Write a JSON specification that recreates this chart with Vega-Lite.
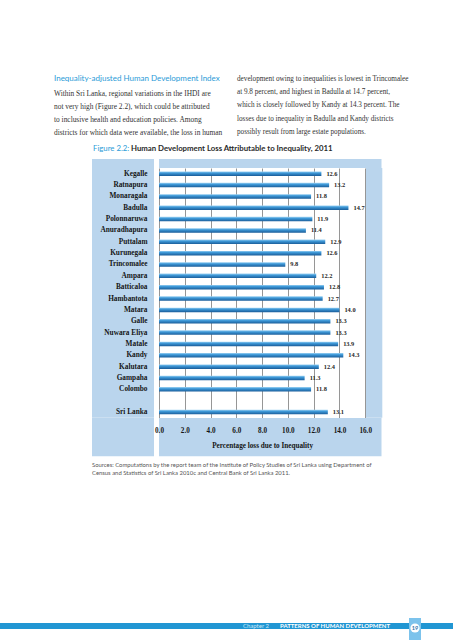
{
  "$schema": "https://vega.github.io/schema/vega-lite/v6.json",
  "padding": 0,
  "background": "white",
  "config": {"view": {"stroke": null}, "concat": {"spacing": 0}},
  "datasets": {
    "loss": [
      {"district": "Kegalle", "loss": 12.6},
      {"district": "Ratnapura", "loss": 13.2},
      {"district": "Monaragala", "loss": 11.8},
      {"district": "Badulla", "loss": 14.7},
      {"district": "Polonnaruwa", "loss": 11.9},
      {"district": "Anuradhapura", "loss": 11.4},
      {"district": "Puttalam", "loss": 12.9},
      {"district": "Kurunegala", "loss": 12.6},
      {"district": "Trincomalee", "loss": 9.8},
      {"district": "Ampara", "loss": 12.2},
      {"district": "Batticaloa", "loss": 12.8},
      {"district": "Hambantota", "loss": 12.7},
      {"district": "Matara", "loss": 14.0},
      {"district": "Galle", "loss": 13.3},
      {"district": "Nuwara Eliya", "loss": 13.3},
      {"district": "Matale", "loss": 13.9},
      {"district": "Kandy", "loss": 14.3},
      {"district": "Kalutara", "loss": 12.4},
      {"district": "Gampaha", "loss": 11.3},
      {"district": "Colombo", "loss": 11.8},
      {"district": "Sri Lanka", "loss": 13.1}
    ]
  },
  "spacing": 0,
  "resolve": {"scale": {"x": "independent", "y": "independent"}},
  "vconcat": [
    {
      "spacing": 0,
      "hconcat": [
        {
          "width": 237, "height": 140, "data": {"values": []}, "mark": "point",
          "title": {
            "text": "Inequality-adjusted Human Development Index",
            "subtitle": [
              "Within Sri Lanka, regional variations in the IHDI are",
              "not very high (Figure 2.2), which could be attributed",
              "to inclusive health and education policies. Among",
              "districts for which data were available, the loss in human"
            ],
            "orient": "bottom", "anchor": "start", "offset": -65.5, "dx": 54,
            "font": "Lato", "fontSize": 8, "fontWeight": "normal", "color": "#2b9bd7",
            "subtitleFont": "Liberation Serif", "subtitleFontSize": 7.4, "subtitleColor": "#333333",
            "subtitleLineHeight": 13.2, "subtitlePadding": 7
          }
        },
        {
          "width": 216, "height": 140, "data": {"values": []}, "mark": "point",
          "title": {
            "text": [
              "development owing to inequalities is lowest in Trincomalee",
              "at 9.8 percent, and highest in Badulla at 14.7 percent,",
              "which is closely followed by Kandy at 14.3 percent. The",
              "losses due to inequality in Badulla and Kandy districts",
              "possibly result from large estate populations."
            ],
            "orient": "bottom", "anchor": "start", "offset": -65,
            "font": "Liberation Serif", "fontSize": 7.2, "fontWeight": "normal", "color": "#333333",
            "lineHeight": 13.2
          }
        }
      ]
    },
    {
      "spacing": 0,
      "hconcat": [
        {
          "width": 131, "height": 19, "data": {"values": []}, "mark": "point",
          "title": {
            "text": "Figure 2.2:", "orient": "bottom", "anchor": "start", "offset": -14.5, "dx": 93,
            "font": "Lato", "fontSize": 7.8, "fontWeight": "normal", "color": "#2b9bd7"
          }
        },
        {
          "width": 322, "height": 19, "data": {"values": []}, "mark": "point",
          "title": {
            "text": "Human Development Loss Attributable to Inequality, 2011", "orient": "bottom", "anchor": "start", "offset": -14.5,
            "font": "Lato", "fontSize": 7.8, "fontWeight": "bold", "color": "#2a2a2a"
          }
        }
      ]
    },
    {
      "spacing": 0,
      "resolve": {"scale": {"x": "independent", "y": "independent"}},
      "hconcat": [
        {"width": 91.5, "height": 297, "data": {"values": []}, "mark": "point"},
        {
          "spacing": 0,
          "vconcat": [
            {"width": 62, "height": 9, "data": {"values": []}, "mark": "point", "view": {"fill": "#bad5ed"}},
            {
              "width": 62, "height": 249.7,
              "data": {"name": "loss"},
              "mark": {"type": "point", "opacity": 0},
              "view": {"fill": "#bad5ed"},
              "encoding": {
                "y": {
                  "field": "district", "type": "nominal",
                  "scale": {
                    "type": "band", "paddingInner": 0, "paddingOuter": 0,
                    "domain": ["Kegalle", "Ratnapura", "Monaragala", "Badulla", "Polonnaruwa", "Anuradhapura", "Puttalam", "Kurunegala", "Trincomalee", "Ampara", "Batticaloa", "Hambantota", "Matara", "Galle", "Nuwara Eliya", "Matale", "Kandy", "Kalutara", "Gampaha", "Colombo", " ", "Sri Lanka"]
                  },
                  "axis": {
                    "orient": "left", "offset": -55, "ticks": false, "tickSize": 0, "domain": false, "grid": false,
                    "labelPadding": 0, "title": null, "labelFont": "Liberation Serif", "labelFontSize": 7.3,
                    "labelFontWeight": "bold", "labelColor": "#151515", "labelLimit": 120
                  }
                }
              }
            },
            {"width": 62, "height": 38.3, "data": {"values": []}, "mark": "point", "view": {"fill": "#bad5ed"}}
          ]
        },
        {
          "spacing": 0,
          "resolve": {"scale": {"x": "independent", "y": "independent"}},
          "vconcat": [
            {"width": 222.5, "height": 9, "data": {"values": []}, "mark": "point", "view": {"fill": "#bad5ed"}},
            {
              "spacing": 0,
              "resolve": {"scale": {"x": "independent", "y": "independent"}},
              "hconcat": [
                {
                  "width": 206.2, "height": 249.7,
                  "data": {"name": "loss"},
                  "view": {"fill": "white"},
                  "encoding": {
                    "y": {
                      "field": "district", "type": "nominal",
                      "scale": {
                        "type": "band", "paddingInner": 0, "paddingOuter": 0,
                        "domain": ["Kegalle", "Ratnapura", "Monaragala", "Badulla", "Polonnaruwa", "Anuradhapura", "Puttalam", "Kurunegala", "Trincomalee", "Ampara", "Batticaloa", "Hambantota", "Matara", "Galle", "Nuwara Eliya", "Matale", "Kandy", "Kalutara", "Gampaha", "Colombo", " ", "Sri Lanka"]
                      },
                      "axis": null
                    },
                    "x": {
                      "field": "loss", "type": "quantitative",
                      "scale": {"domain": [0, 16], "nice": false, "zero": true},
                      "axis": {
                        "values": [0, 2, 4, 6, 8, 10, 12, 14, 16], "grid": true, "labels": false, "ticks": false,
                        "domain": false, "title": null, "gridColor": "#8a8a8a", "gridWidth": 0.9, "gridOpacity": 1
                      }
                    }
                  },
                  "layer": [
                    {
                      "mark": {
                        "type": "bar", "size": 4.5,
                        "color": {
                          "gradient": "linear", "x1": 0, "y1": 0, "x2": 0, "y2": 1,
                          "stops": [
                            {"offset": 0, "color": "#9dd2f3"},
                            {"offset": 0.35, "color": "#3f9ad9"},
                            {"offset": 1, "color": "#1a5d9a"}
                          ]
                        }
                      }
                    },
                    {
                      "mark": {
                        "type": "text", "align": "left", "baseline": "middle", "dx": 5,
                        "font": "Liberation Serif", "fontSize": 6.4, "fontWeight": "bold", "color": "#262626"
                      },
                      "encoding": {"text": {"field": "loss", "type": "quantitative", "format": ".1f"}}
                    }
                  ]
                },
                {"width": 16.3, "height": 249.7, "data": {"values": []}, "mark": "point", "view": {"fill": "#bad5ed"}}
              ]
            },
            {
              "width": 222.5, "height": 38.3,
              "data": {"values": []},
              "mark": {"type": "point", "opacity": 0},
              "view": {"fill": "#bad5ed"},
              "encoding": {
                "x": {
                  "field": "loss", "type": "quantitative",
                  "scale": {"domain": [0, 17.2648], "nice": false, "zero": true},
                  "axis": {
                    "orient": "bottom", "offset": -30.5, "values": [0, 2, 4, 6, 8, 10, 12, 14, 16], "format": ".1f",
                    "labelFlush": false, "ticks": false, "tickSize": 0, "domain": false, "grid": false,
                    "labelPadding": 1, "labelFont": "Liberation Serif", "labelFontSize": 7.2, "labelFontWeight": "bold",
                    "labelColor": "#151515",
                    "title": "Percentage loss due to Inequality", "titleFont": "Liberation Serif", "titleFontSize": 7.2,
                    "titleFontWeight": "bold", "titleColor": "#151515", "titleX": 103.1, "titleY": 15.5,
                    "titleAlign": "center", "titleBaseline": "top"
                  }
                }
              }
            }
          ]
        }
      ]
    },
    {
      "width": 453, "height": 44, "data": {"values": []}, "mark": "point",
      "title": {
        "text": [
          "Sources: Computations by the report team of the Institute of Policy Studies of Sri Lanka using Department of",
          "Census and Statistics of Sri Lanka 2010c and Central Bank of Sri Lanka 2011."
        ],
        "orient": "bottom", "anchor": "start", "offset": -39, "dx": 92,
        "font": "Lato", "fontSize": 5.9, "fontWeight": "normal", "color": "#555555", "lineHeight": 7.6
      }
    },
    {"width": 453, "height": 117, "data": {"values": []}, "mark": "point"},
    {
      "spacing": 0,
      "hconcat": [
        {
          "spacing": 0,
          "vconcat": [
            {"width": 409, "height": 5, "data": {"values": []}, "mark": "point"},
            {
              "spacing": 0,
              "hconcat": [
                {
                  "width": 276, "height": 6, "data": {"values": []}, "mark": "point", "view": {"fill": "#2196d3"},
                  "title": {
                    "text": "Chapter 2", "orient": "bottom", "anchor": "end", "offset": -6, "dx": -7,
                    "font": "Lato", "fontSize": 6, "fontWeight": "normal", "color": "#cbe8f8"
                  }
                },
                {
                  "width": 133, "height": 6, "data": {"values": []}, "mark": "point", "view": {"fill": "#2196d3"},
                  "title": {
                    "text": "PATTERNS OF HUMAN DEVELOPMENT", "orient": "bottom", "anchor": "start", "offset": -6, "dx": 4,
                    "font": "Lato", "fontSize": 6, "fontWeight": "bold", "color": "#ffffff"
                  }
                }
              ]
            }
          ]
        },
        {
          "spacing": 0,
          "vconcat": [
            {
              "width": 12, "height": 20, "view": {"fill": "#7cc3ec"},
              "data": {"values": [{"page": "19"}]},
              "layer": [
                {"mark": {"type": "point", "filled": true, "color": "#ffffff", "size": 85, "opacity": 1}},
                {
                  "mark": {"type": "text", "font": "Lato", "fontSize": 5.5, "fontWeight": "bold", "color": "#2a6fa8"},
                  "encoding": {"text": {"field": "page", "type": "nominal"}}
                }
              ]
            },
            {"width": 12, "height": 3, "data": {"values": []}, "mark": "point", "view": {"fill": "#7cc3ec"}}
          ]
        },
        {
          "spacing": 0,
          "vconcat": [
            {"width": 32, "height": 5, "data": {"values": []}, "mark": "point"},
            {"width": 32, "height": 6, "data": {"values": []}, "mark": "point", "view": {"fill": "#2196d3"}}
          ]
        }
      ]
    }
  ]
}
